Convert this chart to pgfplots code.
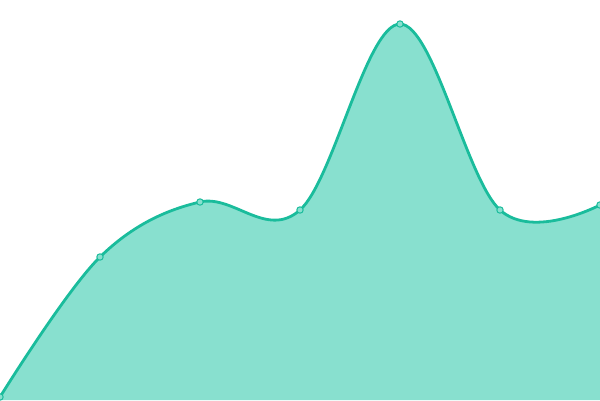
\documentclass[border=0pt]{standalone}
\usepackage{pgfplots}
\pgfplotsset{compat=1.18}
\definecolor{linec}{HTML}{1ABC9C}
\definecolor{fillc}{HTML}{88E0CF}
\begin{document}
\begin{tikzpicture}
\begin{axis}[
    at={(0,0)}, anchor=south west,
    width=600pt, height=400pt, scale only axis,
    hide axis,
    xmin=0, xmax=600, ymin=0, ymax=400,
    clip=true, clip marker paths=true,
  ]
  \addplot[draw=none, fill=fillc, smooth, tension=0.6] coordinates {
    (0,3) (100,143) (200,198) (300,190) (400,376) (500,190) (600,195)
  } \closedcycle;
  \addplot[linec, line width=2.8pt, smooth, tension=0.6,
    mark=*, mark size=3.2pt,
    mark options={fill=fillc, draw=linec, line width=1pt}] coordinates {
    (0,3) (100,143) (200,198) (300,190) (400,376) (500,190) (600,195)
  };
\end{axis}
\pgfresetboundingbox
\path[use as bounding box] (0,0) rectangle (600pt,400pt);
\end{tikzpicture}
\end{document}
